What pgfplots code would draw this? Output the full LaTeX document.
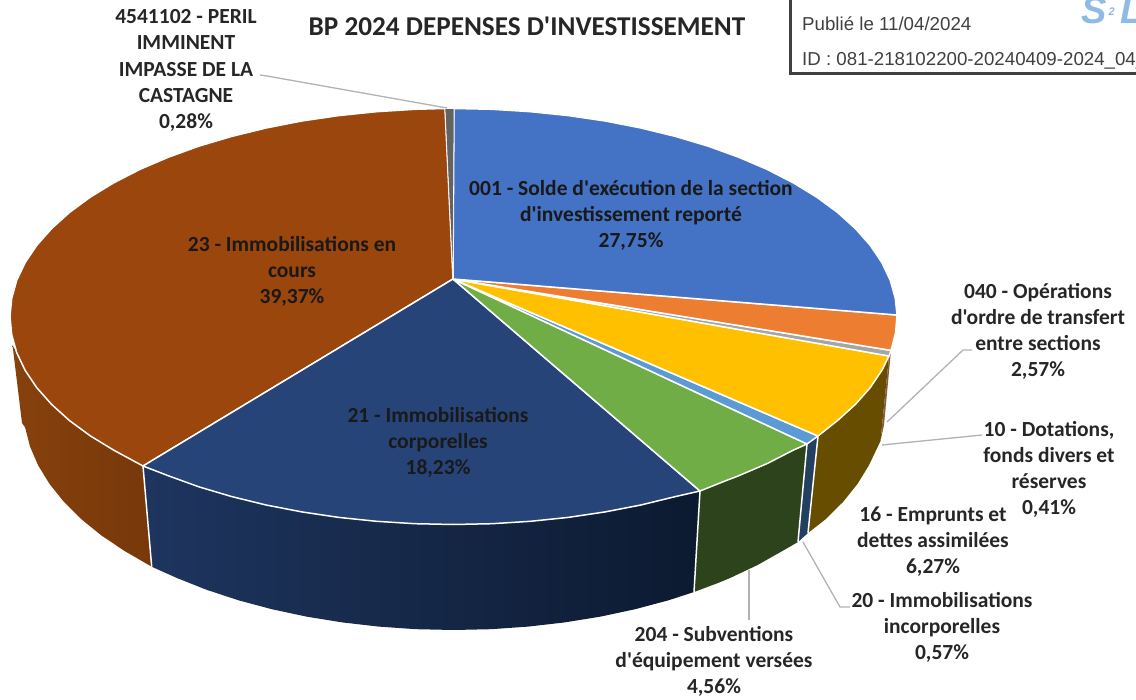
\documentclass[border=0pt]{standalone}
\usepackage{pgfplots}
\pgfplotsset{compat=1.18}
\usepackage{fontspec}
\setmainfont{Carlito}[Ligatures=TeXOff]
\newfontfamily\boxfont{Liberation Sans}
\definecolor{lbl}{HTML}{262626}
\definecolor{HTMLbrownA}{HTML}{86410D}
\definecolor{HTMLbrownB}{HTML}{78380A}
\definecolor{HTMLnavyA}{HTML}{1E355F}
\definecolor{HTMLnavyB}{HTML}{0C1A30}
\definecolor{HTMLgreenS}{HTML}{2C431C}
\definecolor{HTMLblueS}{HTML}{234060}
\definecolor{HTMLyellowS}{HTML}{664D00}
\definecolor{HTMLsliver}{HTML}{8A5A3A}
\definecolor{HTMLbrown}{HTML}{9A460C}
\definecolor{HTMLnavy}{HTML}{264478}
\definecolor{HTMLgreen}{HTML}{70AD47}
\definecolor{HTMLlblue}{HTML}{5B9BD5}
\definecolor{HTMLyellow}{HTML}{FFC000}
\definecolor{HTMLgray}{HTML}{A5A5A5}
\definecolor{HTMLorange}{HTML}{ED7D31}
\definecolor{HTMLblue}{HTML}{4472C4}
\definecolor{HTMLdgray}{HTML}{636363}
\definecolor{HTMLbox}{HTML}{404040}
\definecolor{HTMLlogo}{HTML}{8DBBE6}
\tikzset{
  sl/.style={draw=white,line width=1.5pt,line join=round},
  sd/.style={draw=none},
  sep/.style={white,line width=1.5pt},
  ld/.style={color=black!30,line width=1.3pt},
  lab/.style={font=\fontsize{21.5}{26.2}\selectfont\bfseries,align=center,text=lbl,inner sep=0pt},
  lin/.style={font=\fontsize{21.5}{26.2}\selectfont\bfseries,align=center,text=black!90,inner sep=0pt}}
\begin{document}
\begin{tikzpicture}
\useasboundingbox (0,0) rectangle (1136pt,700pt);
\begin{axis}[at={(0,0)},anchor=south west,scale only axis,width=1136pt,height=700pt,
  xmin=0,xmax=1136,ymin=0,ymax=700,y dir=reverse,hide axis,
  every axis plot/.append style={no marks,sharp plot}]
% sides
\addplot[sd,left color=HTMLbrownA,right color=HTMLbrownB] coordinates {(12.5,345)(22,423)(25.1,427.4)(30,446.5)(38.2,465.5)(49.5,483.9)(63.8,501.8)(81.1,519)(101.2,535.3)(124.1,550.7)(151.7,566.7)(143,466)(113.8,450.2)(90.2,435.8)(69.4,420.5)(51.6,404.4)(36.7,387.6)(25.1,370.3)(16.7,352.6)} -- cycle;
\addplot[sd,left color=HTMLnavyA,right color=HTMLnavyB] coordinates {(143,466)(151.7,566.7)(177.1,578.1)(206.9,589.9)(238.5,600.3)(271.8,609.2)(306.4,616.6)(342.2,622.4)(378.8,626.6)(416,629.2)(453.5,630)(491,629.2)(528.2,626.6)(564.8,622.4)(600.6,616.6)(635.2,609.2)(668.5,600.3)(694,592)(700,491)(675.3,496.6)(640.9,505)(605.2,511.9)(568.3,517.4)(530.5,521.3)(492.2,523.7)(453.5,524.5)(414.8,523.7)(376.5,521.3)(338.7,517.4)(301.8,511.9)(266.1,505)(231.8,496.6)(199.1,486.9)(168.4,475.8)} -- cycle;
\addplot[sd,fill=HTMLgreenS] coordinates {(700,491)(694,592)(718.3,582.9)(729.9,578.1)(757.6,565)(782.9,550.7)(798,542)(807,444)(793.2,450.2)(767.1,463.6)(738.6,475.8)(726.6,480.4)} -- cycle;
\addplot[sd,fill=HTMLblueS] coordinates {(807,444)(798,542)(808,533)(818,436)} -- cycle;
\addplot[sd,fill=HTMLyellowS] coordinates {(818,436)(808,533)(825.9,519)(843.2,501.8)(857.5,483.9)(868.8,465.5)(880.5,441)(889,356)(881.9,370.3)(870.3,387.6)(855.4,404.4)(837.6,420.5)} -- cycle;
\addplot[sd,fill=HTMLsliver] coordinates {(891,350.4)(889,356)(880.5,441)(884,425)} -- cycle;
% separators on the sides
\addplot[sep] coordinates {(143,466)(151.7,566.7)};
\addplot[sep] coordinates {(700,491)(694,592)};
\addplot[sep] coordinates {(807,444)(798,542)};
\addplot[sep] coordinates {(818,436)(808,533)};
% top
\addplot[sl,fill=HTMLbrown] coordinates {(453,279)(143,466)(113.8,450.2)(90.2,435.8)(69.4,420.5)(51.6,404.4)(36.7,387.6)(25.1,370.3)(16.7,352.6)(11.7,334.6)(10,316.5)(11.7,298.4)(16.7,280.4)(25.1,262.7)(36.7,245.4)(51.6,228.6)(69.4,212.5)(90.2,197.2)(113.8,182.8)(139.9,169.4)(168.4,157.2)(199.1,146.1)(231.8,136.4)(266.1,128)(301.8,121)(338.7,115.6)(376.5,111.7)(414.8,109.3)(445,108.5)} -- cycle;
\addplot[sl,fill=HTMLnavy] coordinates {(453,279)(700,491)(675.3,496.6)(640.9,505)(605.2,511.9)(568.3,517.4)(530.5,521.3)(492.2,523.7)(453.5,524.5)(414.8,523.7)(376.5,521.3)(338.7,517.4)(301.8,511.9)(266.1,505)(231.8,496.6)(199.1,486.9)(168.4,475.8)(143,466)} -- cycle;
\addplot[sl,fill=HTMLgreen] coordinates {(453,279)(807,444)(793.2,450.2)(767.1,463.6)(738.6,475.8)(726.6,480.4)(700,491)} -- cycle;
\addplot[sl,fill=HTMLlblue] coordinates {(453,279)(818,436)(807,444)} -- cycle;
\addplot[sl,fill=HTMLyellow] coordinates {(453,279)(889,356)(881.9,370.3)(870.3,387.6)(855.4,404.4)(837.6,420.5)(818,436)} -- cycle;
\addplot[sl,fill=HTMLgray] coordinates {(453,279)(891,350.4)(889,356)} -- cycle;
\addplot[sl,fill=HTMLorange] coordinates {(453,279)(897,315)(895.6,332.8)(891,350.4)} -- cycle;
\addplot[sl,fill=HTMLblue] coordinates {(453,279)(454,108.5)(492.2,109.3)(530.5,111.7)(568.3,115.6)(605.2,121)(640.9,128)(675.3,136.4)(707.9,146.1)(738.6,157.2)(767.1,169.4)(793.2,182.8)(816.8,197.2)(837.6,212.5)(855.4,228.6)(870.3,245.4)(881.9,262.7)(890.3,280.4)(895.3,298.4)(897,315)} -- cycle;
\addplot[draw=white,line width=0.6pt,fill=HTMLdgray] coordinates {(453,279)(445,108.5)(454,108.5)} -- cycle;
% leaders
\addplot[ld] coordinates {(260,75)(267,76)(447,108)};
\addplot[ld] coordinates {(972,350)(963,350)(887,422)};
\addplot[ld] coordinates {(982,435)(882,445)};
\addplot[ld] coordinates {(850,607)(840,607)(803,542)};
\addplot[ld] coordinates {(749,570)(749,620)};
% box
\addplot[draw=HTMLbox,line width=3pt] coordinates {(790,-5)(790,73.5)(1140,73.5)};
% labels
\node[font=\fontsize{27.2}{30}\selectfont\bfseries,text=lbl,inner sep=0pt] at (axis cs:527,26.5) {BP 2024 DEPENSES D'INVESTISSEMENT};
\node[lab] at (axis cs:186,70.5) {4541102 - PERIL\\IMMINENT\\IMPASSE DE LA\\CASTAGNE\\0,28\%};
\node[lin] at (axis cs:631,215.5) {001 - Solde d'exécution de la section\\d'investissement reporté\\27,75\%};
\node[lin] at (axis cs:292,271.5) {23 - Immobilisations en\\cours\\39,37\%};
\node[lin] at (axis cs:438,442.5) {21 - Immobilisations\\corporelles\\18,23\%};
\node[lab] at (axis cs:1038,331.5) {040 - Opérations\\d'ordre de transfert\\entre sections\\2,57\%};
\node[lab] at (axis cs:1049,469.5) {10 - Dotations,\\fonds divers et\\réserves\\0,41\%};
\node[lab] at (axis cs:933,541.5) {16 - Emprunts et\\dettes assimilées\\6,27\%};
\node[lab] at (axis cs:942,627.5) {20 - Immobilisations\\incorporelles\\0,57\%};
\node[lab] at (axis cs:714,661.5) {204 - Subventions\\d'équipement versées\\4,56\%};
\node[anchor=base west,inner sep=0pt,font=\boxfont\fontsize{18.7}{20}\selectfont,text=black!75] at (axis cs:802,30.5) {Publié le 11/04/2024};
\node[anchor=base west,inner sep=0pt,font=\boxfont\fontsize{18.7}{20}\selectfont,text=black!75] at (axis cs:802,65.5) {ID : 081-218102200-20240409-2024\_04\_};
\node[anchor=base west,inner sep=0pt,font=\boxfont\itshape\bfseries\fontsize{38}{40}\selectfont,text=HTMLlogo] at (axis cs:1081,23.5) {S\hspace{2pt}\raisebox{8pt}{\fontsize{11}{12}\selectfont 2}\hspace{6pt}L};
\end{axis}
\end{tikzpicture}
\end{document}
